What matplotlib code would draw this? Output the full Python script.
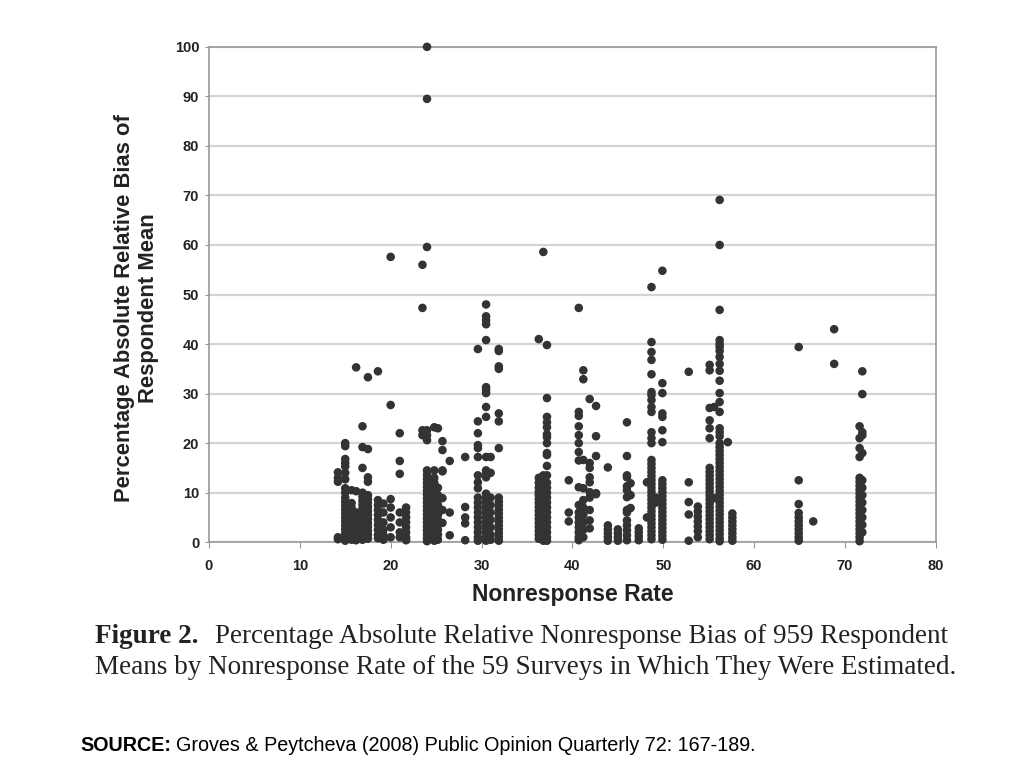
import matplotlib
import numpy as np

matplotlib.use("Agg")
import matplotlib.pyplot as plt


# nonresponse rate of each survey (x) and the bias values (y)
survey_rate = [
    14.2, 15.0, 15.7, 16.2, 16.9, 17.5, 18.6, 19.2, 20.0, 21.0,
    21.7, 23.5, 24.0, 24.8, 25.2, 25.7, 26.5, 28.2, 29.6, 30.5,
    31.0, 31.9, 36.3, 36.8, 37.2, 39.6, 40.7, 41.2, 41.9, 42.6,
    43.9, 45.0, 46.0, 46.4, 47.3, 48.2, 48.7, 49.2, 49.9, 52.8,
    53.8, 55.1, 55.6, 56.2, 57.1, 57.6, 64.9, 66.5, 68.8, 71.6,
    71.9,
]

survey_bias = [
    [14.1, 13.0, 12.2, 1.0, 0.6],
    [20.0, 19.4, 16.8, 16.0, 15.3, 14.0, 12.7, 10.9, 10.0, 9.0, 8.2, 7.4, 6.6, 5.8,
     5.0, 4.2, 3.4, 2.6, 1.8, 1.0, 0.3],
    [10.5, 7.9, 7.0, 6.0, 5.0, 4.0, 3.0, 2.0, 1.0, 0.5],
    [35.3, 10.3, 6.0, 5.2, 4.4, 3.6, 2.8, 2.0, 1.2, 0.4],
    [23.4, 19.2, 15.0, 10.0, 9.2, 8.4, 7.6, 6.8, 6.0, 5.2, 4.4, 3.6, 2.8, 2.0, 1.2, 0.5],
    [33.3, 18.8, 13.1, 12.2, 9.5, 8.7, 7.9, 7.1, 6.3, 5.5, 4.7, 3.9, 3.1, 2.3, 1.5, 0.7],
    [34.5, 8.5, 7.5, 6.5, 5.5, 4.5, 3.5, 2.5, 1.5, 0.8],
    [7.8, 6.0, 4.0, 2.5, 1.5, 0.5],
    [57.6, 27.7, 8.7, 7.0, 5.0, 3.0, 1.0],
    [22.0, 16.4, 13.8, 6.0, 4.0, 2.0, 1.0],
    [7.0, 6.0, 5.0, 4.0, 3.0, 2.0, 1.0, 0.4],
    [56.0, 47.3, 22.6, 21.6],
    [100.0, 89.5, 59.6, 22.6, 21.6, 20.6, 14.5, 13.6, 12.8, 12.0, 11.2, 10.4, 9.6, 8.8,
     8.0, 7.2, 6.4, 5.6, 4.8, 4.0, 3.2, 2.4, 1.6, 0.8, 0.2],
    [23.2, 14.5, 13.0, 12.0, 11.0, 10.0, 9.0, 8.0, 7.0, 6.0, 5.0, 4.0, 3.0, 2.0, 1.0, 0.3],
    [23.0, 11.0, 9.5, 8.5, 7.5, 6.5, 5.5, 4.5, 3.5, 2.5, 1.5, 0.5],
    [20.4, 18.6, 14.5, 14.3, 8.9, 6.5, 3.9],
    [16.4, 6.0, 1.4],
    [17.2, 7.1, 5.0, 3.8, 0.4],
    [39.0, 24.4, 22.0, 19.6, 19.0, 17.2, 13.5, 12.1, 10.9, 9.0, 8.0, 7.0, 6.0, 5.0,
     4.0, 3.0, 2.0, 1.0, 0.3],
    [48.0, 45.6, 44.8, 44.0, 40.8, 31.3, 30.7, 30.1, 27.3, 25.3, 17.2, 14.5, 13.9, 13.1,
     9.8, 9.0, 8.2, 7.4, 6.6, 5.8, 5.0, 4.2, 3.4, 2.6, 1.8, 1.0, 0.3],
    [17.2, 14.0, 9.0, 7.5, 6.0, 4.5, 3.0, 1.5, 0.5],
    [39.0, 38.6, 35.5, 35.0, 26.0, 24.4, 19.0, 9.0, 8.2, 7.4, 6.6, 5.8, 5.0, 4.2, 3.4,
     2.6, 1.8, 1.0, 0.3],
    [41.0, 13.0, 12.0, 11.0, 10.1, 9.5, 8.7, 7.9, 7.1, 6.3, 5.5, 4.7, 3.9, 3.1, 2.3, 1.5, 0.7],
    [58.6, 13.5, 12.0, 10.5, 9.0, 8.0, 7.0, 6.0, 5.0, 4.0, 3.0, 2.0, 1.0, 0.3],
    [39.8, 29.1, 25.3, 24.2, 23.2, 21.8, 21.2, 20.0, 18.0, 17.6, 15.4, 13.5, 12.0, 11.0,
     10.0, 9.0, 8.0, 7.0, 6.0, 5.0, 4.0, 3.0, 2.0, 1.0, 0.3],
    [12.5, 6.0, 4.2],
    [47.3, 26.3, 25.5, 23.4, 21.6, 20.0, 18.2, 16.5, 11.1, 7.5, 6.0, 5.0, 4.0, 3.0, 2.0, 1.0, 0.4],
    [34.7, 32.9, 16.6, 10.9, 8.5, 7.0, 5.5, 4.0, 2.5, 1.0],
    [28.9, 16.0, 15.0, 13.1, 12.1, 10.1, 9.0, 6.5, 4.4, 2.8],
    [27.5, 21.4, 17.4, 9.9, 9.7],
    [15.1, 3.4, 2.6, 1.8, 1.0, 0.3],
    [2.6, 1.8, 1.0, 0.3],
    [24.2, 17.4, 13.5, 13.1, 11.3, 10.5, 9.1, 6.5, 6.0, 4.4, 3.4, 2.4, 1.4, 0.4],
    [11.9, 9.5, 6.9],
    [2.8, 2.0, 1.2, 0.4],
    [12.1, 5.0],
    [51.5, 40.4, 38.4, 36.8, 33.9, 30.3, 29.7, 28.7, 27.3, 26.3, 22.2, 21.0, 20.0, 16.6,
     15.8, 15.0, 14.2, 13.4, 12.6, 11.8, 11.0, 10.2, 9.4, 8.6, 7.8, 7.0, 6.2, 5.4, 4.6,
     3.8, 3.0, 2.2, 1.4, 0.6],
    [9.0, 8.5, 8.0],
    [54.8, 32.1, 30.1, 26.0, 25.3, 22.6, 20.2, 12.5, 11.7, 10.9, 10.1, 9.3, 8.5, 7.7,
     6.9, 6.1, 5.3, 4.5, 3.7, 2.9, 2.1, 1.3, 0.5],
    [34.4, 12.1, 8.1, 5.6, 0.3],
    [7.2, 6.2, 5.2, 4.2, 3.2, 2.2, 1.0],
    [35.8, 34.7, 27.1, 24.6, 23.0, 21.0, 15.0, 14.2, 13.4, 12.6, 11.8, 11.0, 10.2, 9.4,
     8.6, 7.8, 7.0, 6.2, 5.4, 4.6, 3.8, 3.0, 2.2, 1.4, 0.6],
    [27.3, 8.9],
    [69.1, 60.0, 46.9, 40.8, 40.0, 39.4, 38.6, 37.4, 36.0, 34.6, 32.6, 30.1, 28.3, 26.3,
     23.0, 22.2, 21.4, 20.0, 19.2, 18.4, 17.6, 16.8, 16.0, 15.2, 14.4, 13.6, 12.8, 12.0,
     11.2, 10.4, 9.6, 8.8, 8.0, 7.2, 6.4, 5.6, 4.8, 4.0, 3.2, 2.4, 1.6, 0.8, 0.2],
    [20.2],
    [5.8, 5.0, 4.2, 3.4, 2.6, 1.8, 1.0, 0.3],
    [39.4, 12.5, 7.7, 5.9, 5.0, 4.2, 3.4, 2.6, 1.8, 1.0, 0.3],
    [4.2],
    [43.0, 36.0],
    [23.4, 21.0, 19.0, 17.2, 13.0, 12.2, 11.4, 10.6, 9.8, 9.0, 8.2, 7.4, 6.6, 5.8, 5.0,
     4.2, 3.4, 2.6, 1.8, 1.0, 0.2],
    [34.5, 29.9, 22.2, 21.6, 18.0, 12.5, 11.0, 9.5, 8.0, 6.5, 5.0, 3.5, 2.0],
]

x_ticks = [0, 10, 20, 30, 40, 50, 60, 70, 80]
y_ticks = [0, 10, 20, 30, 40, 50, 60, 70, 80, 90, 100]

caption_bold = "Figure 2."
caption_line1 = "Percentage Absolute Relative Nonresponse Bias of 959 Respondent"
caption_line2 = "Means by Nonresponse Rate of the 59 Surveys in Which They Were Estimated."
source_bold = "SOURCE:"
source_text = "Groves & Peytcheva (2008) Public Opinion Quarterly 72: 167-189."


def main():
    xs = []
    ys = []
    for rate, biases in zip(survey_rate, survey_bias):
        xs.extend([rate] * len(biases))
        ys.extend(biases)

    fig = plt.figure(figsize=(10.24, 7.68), dpi=100)
    ax = fig.add_axes([0.204, 0.294, 0.71, 0.645])

    ax.scatter(xs, ys, s=38, color="#333333", edgecolors="none", zorder=3, clip_on=False)

    ax.set_xlim(0, 80)
    ax.set_ylim(0, 100)
    ax.set_xticks(x_ticks)
    ax.set_yticks(y_ticks)
    ax.yaxis.grid(True, color="#d4d4d4", linewidth=1.6, zorder=0)
    ax.set_axisbelow(True)
    for side in ax.spines.values():
        side.set_color("#999999")
        side.set_linewidth(1.2)
    ax.tick_params(axis="both", direction="out", color="#999999", labelsize=10.5)
    ax.tick_params(axis="x", length=4, pad=8)
    ax.tick_params(axis="y", length=3, pad=4)
    for lab in ax.get_xticklabels() + ax.get_yticklabels():
        lab.set_fontweight("bold")
        lab.set_fontfamily("Liberation Sans")
        lab.set_color("#222222")

    ax.set_xlabel("Nonresponse Rate", fontsize=16.5, fontweight="bold",
                  fontfamily="Liberation Sans", color="#222222", labelpad=7)
    ax.set_ylabel("Percentage Absolute Relative Bias of\nRespondent Mean", fontsize=15.8,
                  fontweight="bold", fontfamily="Liberation Sans", color="#222222",
                  linespacing=1.2)
    ax.yaxis.set_label_coords(-0.068, 0.473)

    # caption: bold "Figure 2." followed by regular serif text
    fig.canvas.draw()
    renderer = fig.canvas.get_renderer()
    cap_size = 19.55
    y1 = 1 - 643 / 768
    y2 = 1 - 674 / 768
    t1 = fig.text(0.093, y1, caption_bold, fontsize=cap_size, fontweight="bold",
                  fontfamily="Liberation Serif", va="baseline", color="#222222")
    bb = t1.get_window_extent(renderer)
    fig.text((bb.x1 + 16) / 1024, y1, caption_line1, fontsize=cap_size,
             fontfamily="Liberation Serif", va="baseline", color="#222222")
    fig.text(0.093, y2, caption_line2, fontsize=cap_size,
             fontfamily="Liberation Serif", va="baseline", color="#222222")

    ys_src = 1 - 751 / 768
    s1 = fig.text(80 / 1024, ys_src, source_bold, fontsize=14.2, fontweight="bold",
                  fontfamily="Liberation Sans", va="baseline", color="black")
    bb = s1.get_window_extent(renderer)
    fig.text((bb.x1 + 5) / 1024, ys_src, source_text, fontsize=14.2,
             fontfamily="Liberation Sans", va="baseline", color="black")

    fig.savefig("out.png", dpi=100)


if __name__ == "__main__":
    main()
